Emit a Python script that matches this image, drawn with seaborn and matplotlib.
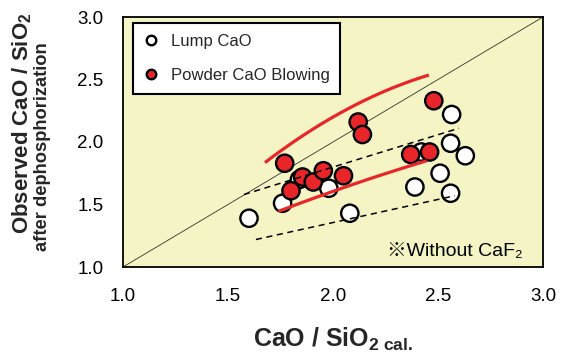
import matplotlib
matplotlib.use("Agg")
import matplotlib.pyplot as plt
import seaborn as sns
import numpy as np
import pandas as pd

# ---- data ----
lump_x = [1.60, 1.76, 2.08, 1.98, 1.84, 2.39, 2.51, 2.56, 2.56, 2.63, 2.565, 2.42]
lump_y = [1.39, 1.51, 1.43, 1.63, 1.70, 1.64, 1.75, 1.59, 1.99, 1.89, 2.22, 1.92]
powder_x = [1.77, 1.80, 1.855, 1.906, 1.954, 2.05, 2.12, 2.14, 2.37, 2.46, 2.48]
powder_y = [1.83, 1.61, 1.72, 1.68, 1.77, 1.73, 2.16, 2.06, 1.90, 1.92, 2.33]

upper_red_x = [1.676, 1.92, 2.16, 2.457]
upper_red_y = [1.835, 2.12, 2.34, 2.536]
lower_red_x = [1.74, 2.018, 2.256, 2.446]
lower_red_y = [1.445, 1.616, 1.75, 1.85]
upper_dash_x = [1.576, 2.60]
upper_dash_y = [1.58, 2.11]
lower_dash_x = [1.633, 2.58]
lower_dash_y = [1.22, 1.57]

ticks = [1.0, 1.5, 2.0, 2.5, 3.0]
tick_labels = ["1.0", "1.5", "2.0", "2.5", "3.0"]
series_names = ["Lump CaO", "Powder CaO Blowing"]

df = pd.DataFrame({
    "x": lump_x + powder_x,
    "y": lump_y + powder_y,
    "series": [series_names[0]] * len(lump_x) + [series_names[1]] * len(powder_x),
})

sns.set_theme(style="white")
plt.rcParams["font.family"] = ["Liberation Sans", "Noto Sans CJK JP", "DejaVu Sans"]
plt.rcParams["mathtext.fontset"] = "custom"
plt.rcParams["mathtext.rm"] = "Liberation Sans"
plt.rcParams["mathtext.bf"] = "Liberation Sans:bold"
plt.rcParams["mathtext.it"] = "Liberation Sans:italic"

RED = "#E8262A"
BG = "#F4F4C4"

fig = plt.figure(figsize=(5.67, 3.56), dpi=100)
ax = fig.add_axes([123 / 567, 1 - 267 / 356, 420 / 567, 250 / 356])
ax.set_facecolor(BG)

# diagonal y = x
ax.plot([1, 3], [1, 3], color="#333333", lw=0.6, zorder=1)

sns.scatterplot(data=df, x="x", y="y", hue="series",
                palette={series_names[0]: "white", series_names[1]: RED},
                s=155, edgecolor="black", linewidth=1.7, ax=ax, zorder=3)

# guide lines (smooth trend curves through the read points)
for gx, gy in [(upper_red_x, upper_red_y), (lower_red_x, lower_red_y)]:
    sns.regplot(x=gx, y=gy, order=2, ci=None, scatter=False, truncate=True, ax=ax,
                line_kws=dict(color=RED, lw=2.3, zorder=4, solid_capstyle="butt"))
ax.plot(upper_dash_x, upper_dash_y, color="black", lw=1.1, ls=(0, (4, 3)), zorder=4)
ax.plot(lower_dash_x, lower_dash_y, color="black", lw=1.1, ls=(0, (4, 3)), zorder=4)

ax.set_xlim(1, 3)
ax.set_ylim(1, 3)
ax.set_xticks(ticks)
ax.set_xticklabels(tick_labels)
ax.set_yticks(ticks)
ax.set_yticklabels(tick_labels)
ax.tick_params(axis="both", direction="in", length=5, width=1.0, color="black",
               labelsize=13.5, pad=14, labelcolor="black")
ax.tick_params(axis="x", pad=15)
for sp in ax.spines.values():
    sp.set_color("black")
    sp.set_linewidth(1.3)
ax.set_xlabel("")
ax.set_ylabel("")

# legend
handles, labels = ax.get_legend_handles_labels()
leg = ax.legend(handles, labels, loc="upper left", bbox_to_anchor=(0.024, 0.976),
                borderaxespad=0, frameon=True, fancybox=False, fontsize=12,
                markerscale=0.55, handlelength=0.8, handletextpad=0.8,
                labelspacing=1.15, borderpad=0.65)
leg.get_frame().set_edgecolor("black")
leg.get_frame().set_linewidth(1.5)
leg.get_frame().set_facecolor("white")
leg.get_frame().set_alpha(1)
leg.set_zorder(6)

# note
ax.text(0.952, 0.03, "※Without CaF₂", transform=ax.transAxes, ha="right", va="bottom",
        fontsize=14, color="black", zorder=6)

# axis labels
fig.text(22 / 567, 1 - 123 / 356, r"Observed CaO / SiO$_\mathbf{2}$", rotation=90,
         ha="center", va="center", fontsize=16, fontweight="bold")
fig.text(43 / 567, 1 - 147 / 356, "after dephosphorization", rotation=90,
         ha="center", va="center", fontsize=13.2, fontweight="bold")
fig.text(333 / 567, 1 - 339 / 356, r"CaO / SiO$_{\mathbf{2\ cal.}}$",
         ha="center", va="center", fontsize=18, fontweight="bold")

fig.savefig("out.png", dpi=100)
